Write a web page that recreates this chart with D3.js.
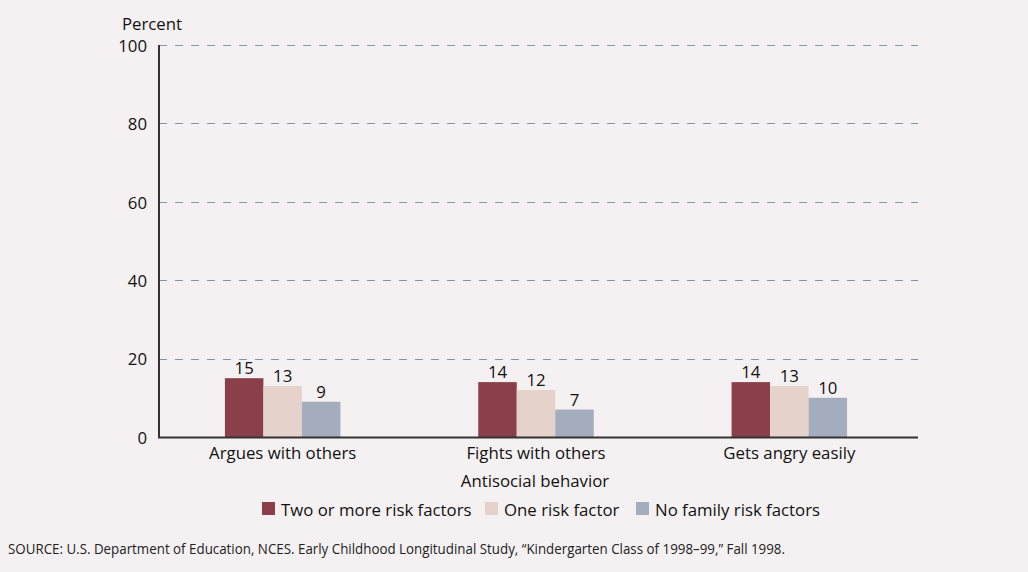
<!DOCTYPE html>
<html>
<head>
<meta charset="utf-8">
<script src="https://cdn.jsdelivr.net/npm/d3@7/dist/d3.min.js"></script>
<style>
  html, body { margin: 0; padding: 0; background: #f5f1f2; }
  svg { display: block; font-family: "Open Sans", "Noto Sans", sans-serif; }
</style>
</head>
<body>
<svg id="chart" width="1028" height="572"></svg>
<script>
// Antisocial behavior categories and series
const categories = ["Argues with others", "Fights with others", "Gets angry easily"];
const seriesNames = ["Two or more risk factors", "One risk factor", "No family risk factors"];
const twoOrMore = [15, 14, 14];
const oneRisk = [13, 12, 13];
const noRisk = [9, 7, 10];
const yTicks = [0, 20, 40, 60, 80, 100];
const colors = ["#8a3f4a", "#e4d2cb", "#a3adbe"];

const seriesValues = [twoOrMore, oneRisk, noRisk];
const fs = 16.8;

const svg = d3.select("#chart");
svg.append("rect").attr("width", 1028).attr("height", 572).attr("fill", "#f5f1f2");

const plotLeft = 159, plotRight = 918, plotTop = 45, plotBottom = 437;

const y = d3.scaleLinear().domain([0, 100]).range([plotBottom, plotTop]);
const x0 = d3.scaleBand().domain(categories).range([156, 916]).paddingInner(0).paddingOuter(0);
const barW = 38.5;
const x1 = d3.scaleBand().domain(seriesNames).range([0, barW * 3]);

// Dashed gridlines
svg.append("g").selectAll("line").data(yTicks).join("line")
  .attr("x1", plotLeft).attr("x2", plotRight)
  .attr("y1", d => Math.round(y(d)) + 0.5).attr("y2", d => Math.round(y(d)) + 0.5)
  .attr("stroke", "#8590aa").attr("stroke-width", 1)
  .attr("stroke-dasharray", "8,8");

// Y tick labels
svg.append("g").selectAll("text").data(yTicks).join("text")
  .attr("x", 147).attr("y", d => y(d) + 1)
  .attr("dy", "0.35em")
  .attr("text-anchor", "end")
  .attr("font-size", fs).attr("fill", "#111")
  .text(d => d);

svg.append("text").attr("x", 152).attr("y", 30)
  .attr("text-anchor", "middle").attr("font-size", fs).attr("fill", "#111")
  .text("Percent");

// Bars
const groups = svg.append("g").selectAll("g").data(categories).join("g")
  .attr("transform", c => `translate(${x0(c) + x0.bandwidth() / 2 - barW * 1.5},0)`);

groups.selectAll("rect").data((c, i) => seriesNames.map((s, j) => ({ s, j, v: seriesValues[j][i] })))
  .join("rect")
  .attr("x", d => x1(d.s))
  .attr("width", x1.bandwidth())
  .attr("y", d => y(d.v))
  .attr("height", d => plotBottom - y(d.v))
  .attr("fill", d => colors[d.j]);

groups.selectAll("text").data((c, i) => seriesNames.map((s, j) => ({ s, j, v: seriesValues[j][i] })))
  .join("text")
  .attr("x", d => x1(d.s) + x1.bandwidth() / 2)
  .attr("y", d => y(d.v) - 4)
  .attr("text-anchor", "middle")
  .attr("font-size", fs).attr("fill", "#111")
  .text(d => d.v);

// Axes lines
svg.append("line").attr("x1", plotLeft).attr("x2", plotLeft)
  .attr("y1", plotTop).attr("y2", plotBottom + 1)
  .attr("stroke", "#333").attr("stroke-width", 2);
svg.append("line").attr("x1", plotLeft - 1).attr("x2", plotRight)
  .attr("y1", plotBottom + 0.5).attr("y2", plotBottom + 0.5)
  .attr("stroke", "#333").attr("stroke-width", 2);

// Category labels
svg.append("g").selectAll("text").data(categories).join("text")
  .attr("x", c => x0(c) + x0.bandwidth() / 2)
  .attr("y", 459)
  .attr("text-anchor", "middle")
  .attr("font-size", fs).attr("fill", "#111")
  .text(c => c);

svg.append("text").attr("x", 535).attr("y", 487)
  .attr("text-anchor", "middle").attr("font-size", fs).attr("fill", "#111")
  .text("Antisocial behavior");

// Legend
const legendX = [262, 485, 636];
const legend = svg.append("g").selectAll("g").data(seriesNames).join("g")
  .attr("transform", (d, i) => `translate(${legendX[i]},502)`);
legend.append("rect").attr("width", 13).attr("height", 13)
  .attr("fill", (d, i) => colors[i]);
legend.append("text").attr("x", 19).attr("y", 14)
  .attr("font-size", fs).attr("fill", "#111")
  .text(d => d);

// Source note
svg.append("text").attr("x", 8).attr("y", 554)
  .attr("font-size", 14).attr("fill", "#222")
  .attr("textLength", 777).attr("lengthAdjust", "spacingAndGlyphs")
  .text("SOURCE:  U.S. Department of Education, NCES.  Early Childhood Longitudinal Study, \u201cKindergarten Class of 1998\u201399,\u201d  Fall 1998.");
</script>
</body>
</html>
